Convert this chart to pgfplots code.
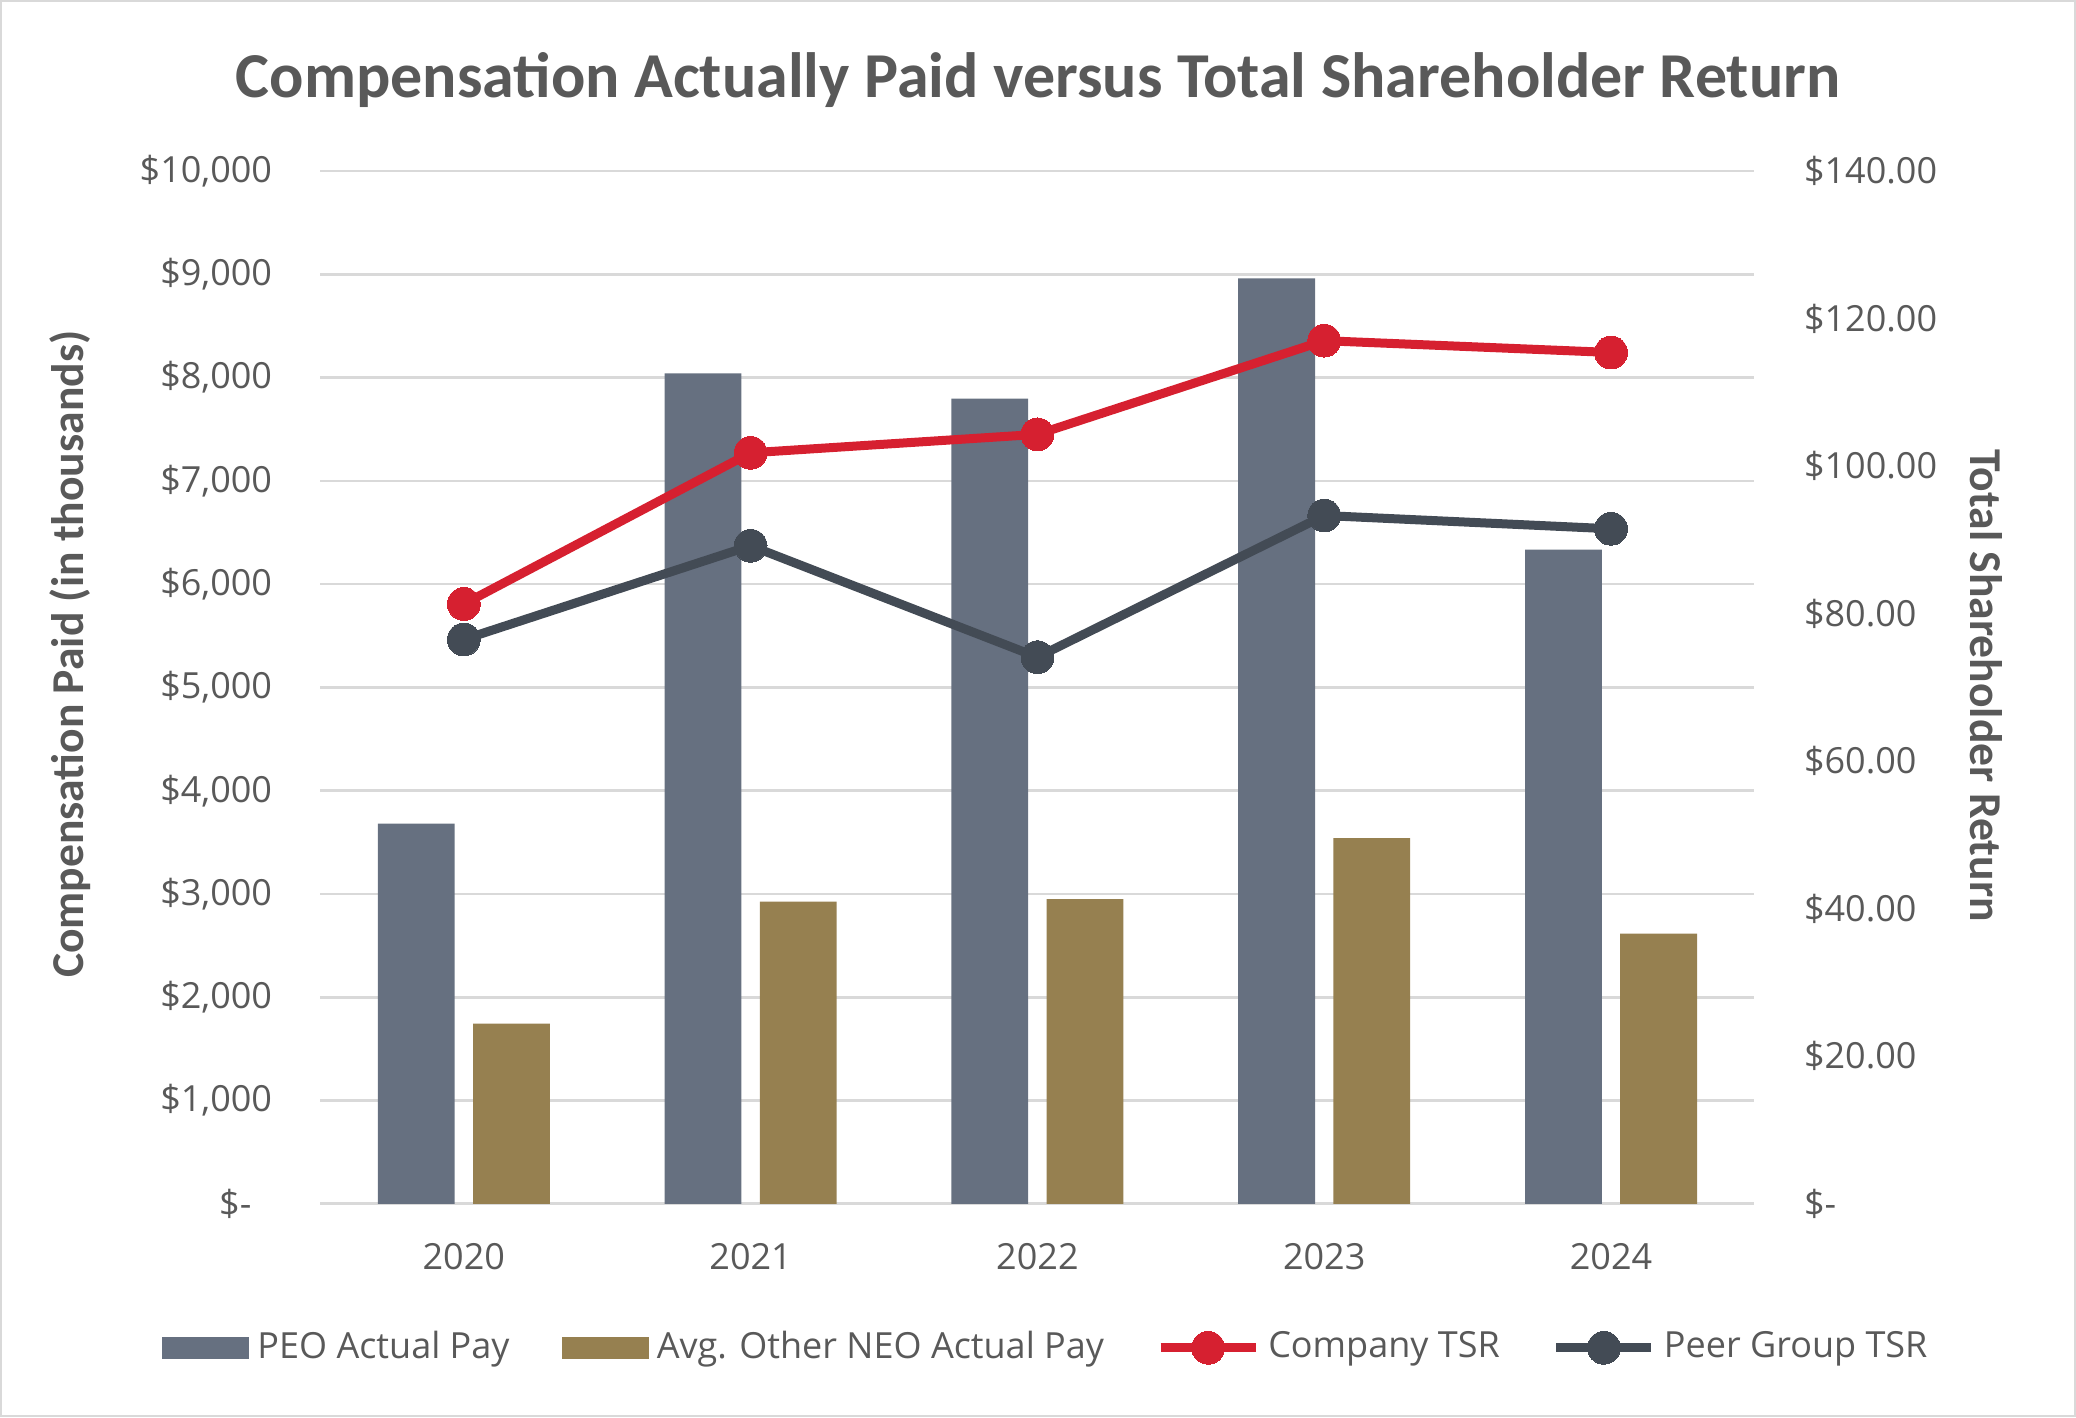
\documentclass[border=0pt]{standalone}
\usepackage{pgfplots}
\pgfplotsset{compat=1.18}
\usepackage{fontspec}
\setmainfont{Open Sans}
\newfontfamily\calibri{Carlito}
\definecolor{peo}{HTML}{667080}
\definecolor{neo}{HTML}{968050}
\definecolor{comp}{HTML}{D62030}
\definecolor{peer}{HTML}{434B55}
\definecolor{gridc}{HTML}{D9D9D9}
\definecolor{txt}{HTML}{595959}
\pgfplotsset{
  barlegend/.style={legend image code/.code={\fill[##1] (0pt,-2.75pt) rectangle (21.8pt,2.75pt);}},
  linelegend/.style={legend image code/.code={\draw[mark repeat=2, mark phase=2, ##1] plot coordinates {(0pt,0pt) (11.9pt,0pt) (23.8pt,0pt)};}},
  common/.style={at={(80.1pt,53.3pt)}, anchor=south west, scale only axis, width=358.5pt, height=258.2pt, xmin=-0.5, xmax=4.5, major tick length=0pt, tick style={draw=none}, axis line style={draw=none}, scaled y ticks=false, ticklabel style={text=txt, font=\fontsize{9}{11}\selectfont}}
}
\begin{document}
\begin{tikzpicture}
\useasboundingbox (0,0) rectangle (519pt,354.25pt);
\draw[color=gray!30, line width=0.6pt] (0.3pt,0.3pt) rectangle (518.7pt,353.95pt);
\node[anchor=base, text=txt, font=\calibri\bfseries\fontsize{16}{19}\selectfont] at (259.5pt,329.9pt) {Compensation Actually Paid versus Total Shareholder Return};
\begin{axis}[common,
  ymin=0, ymax=10000, ytick={0,1000,...,10000},
  yticklabels={{\$-\hphantom{0}},{\$1,000},{\$2,000},{\$3,000},{\$4,000},{\$5,000},{\$6,000},{\$7,000},{\$8,000},{\$9,000},{\$10,000}},
  xtick={0,1,2,3,4}, xticklabels={2020,2021,2022,2023,2024},
  ymajorgrids, grid style={gridc, line width=0.67pt},
  ylabel={Compensation Paid (in thousands)},
  every axis y label/.style={at={(axis description cs:-0.1746,0.532)}, rotate=90, anchor=center, text=txt, font=\calibri\bfseries\fontsize{11.4}{13}\selectfont},
  yticklabel style={anchor=east, inner sep=0pt, xshift=-11.9pt},
  xticklabel style={anchor=north, inner sep=0pt, yshift=-9.6pt}]
\addplot[ybar, bar width=19.2pt, bar shift=-11.9pt, fill=peo, draw=none] coordinates {(0,3680) (1,8040) (2,7795) (3,8960) (4,6333)};
\addplot[ybar, bar width=19.2pt, bar shift=11.9pt, fill=neo, draw=none] coordinates {(0,1745) (1,2925) (2,2950) (3,3540) (4,2615)};
\end{axis}
\begin{axis}[common,
  hide x axis,
  ymin=0, ymax=140, ytick={0,20,...,140}, yticklabel pos=right,
  yticklabels={{\$-},{\$20.00},{\$40.00},{\$60.00},{\$80.00},{\$100.00},{\$120.00},{\$140.00}},
  yticklabel style={anchor=west, inner sep=0pt, xshift=12.2pt},
  ylabel={Total Shareholder Return},
  every axis y label/.style={at={(axis description cs:1.1615,0.502)}, rotate=-90, anchor=center, text=txt, font=\calibri\bfseries\fontsize{11.4}{13}\selectfont},
  legend columns=4,
  legend cell align=left,
  legend style={at={(axis description cs:0.508,-0.1394)}, anchor=center, draw=none, fill=none, inner sep=0pt, text=txt, font=\fontsize{9}{11}\selectfont, /tikz/every even column/.append style={column sep=11pt}}]
\addlegendimage{fill=peo, draw=none, barlegend}
\addlegendentry{PEO Actual Pay}
\addlegendimage{fill=neo, draw=none, barlegend}
\addlegendentry{Avg. Other NEO Actual Pay}
\addplot[comp, line width=2.25pt, mark=*, mark size=4.1pt, mark options={solid, fill=comp, draw=comp, line width=0pt}, linelegend] coordinates {(0,81.3) (1,101.8) (2,104.3) (3,117.0) (4,115.4)};
\addlegendentry{Company TSR}
\addplot[peer, line width=2.25pt, mark=*, mark size=4.1pt, mark options={solid, fill=peer, draw=peer, line width=0pt}, linelegend] coordinates {(0,76.5) (1,89.2) (2,74.1) (3,93.3) (4,91.5)};
\addlegendentry{Peer Group TSR}
\end{axis}
\end{tikzpicture}
\end{document}
